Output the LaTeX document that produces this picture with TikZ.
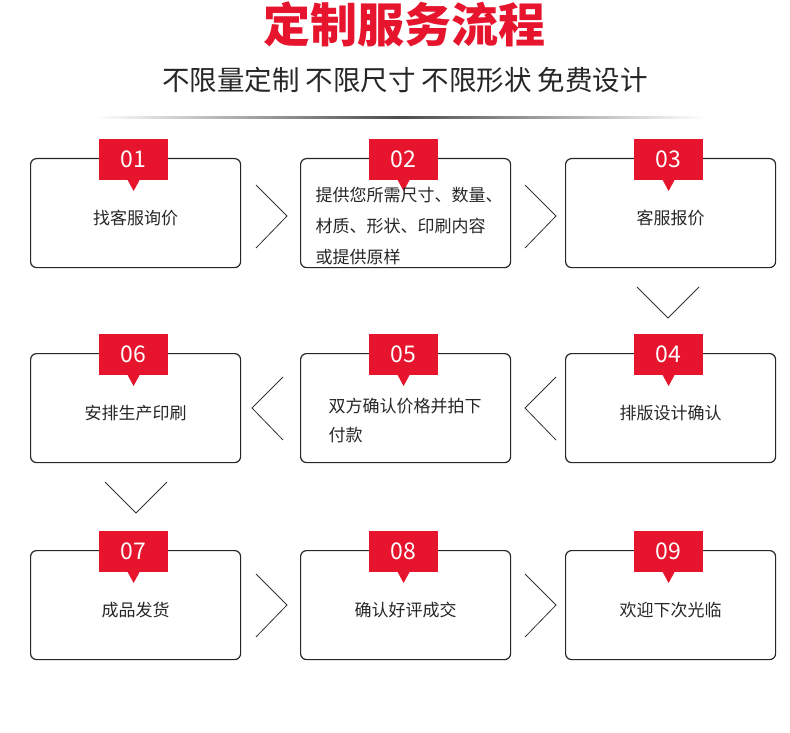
\documentclass[tikz,border=0pt]{standalone}
\usepackage{fontspec}
\setmainfont{Noto Sans CJK SC}
\usetikzlibrary{positioning}
\definecolor{tabred}{RGB}{230,20,45}
\tikzset{
  box/.style={draw=black!85, line width=1.2pt, rounded corners=6pt, minimum width=210pt, minimum height=109pt, inner sep=0pt},
  tab/.style={fill=tabred, minimum width=69pt, minimum height=41pt, text=white, font=\fontsize{23}{23}\selectfont, inner sep=0pt},
  boxtext/.style={font=\fontsize{17}{17}\selectfont, text=black!85},
  chev/.style={draw=black!80, line width=0.8pt},
}
% step box: name, x, y (top), number, text
\newcommand\mystep[5]{
  \node[box, anchor=north west] (#1) at (#2,#3) {};
  \node[tab, anchor=south] (#1tab) at ([xshift=-2pt,yshift=-22pt]#1.north) {#4};
  \fill[tabred] ([xshift=-6pt]#1tab.south) -- ([xshift=6pt]#1tab.south) -- ([yshift=-11pt]#1tab.south) -- cycle;
  \node[boxtext] (#1txt) at ([yshift=-5pt]#1.center) {#5};
}
\begin{document}
\begin{tikzpicture}[x=1pt, y=-1pt]
  \useasboundingbox (0,0) rectangle (790,733);
  % title
  \node[text=tabred, font=\fontsize{47}{47}\bfseries\selectfont] (title) at (404,24) {定制服务流程};
  \node[font=\fontsize{27.5}{27.5}\selectfont, text=black!85] (subtitle) at (405,80) {不限量定制 不限尺寸 不限形状 免费设计};
  \shade[left color=white, right color=white, middle color=black!70] (95,117) rectangle (705,119);

  % row 1
  \mystep{s01}{30}{158}{01}{找客服询价}
  \mystep{s02}{300}{158}{02}{}
  \mystep{s03}{565}{158}{03}{客服报价}
  \node[boxtext, anchor=west, align=left, text width=200pt] (s02txt) at (312,226)
    {提供您所需尺寸、数量、\\[14pt]材质、形状、印刷内容\\[14pt]或提供原样};
  % row 2
  \mystep{s06}{30}{353}{06}{安排生产印刷}
  \mystep{s05}{300}{353}{05}{}
  \mystep{s04}{565}{353}{04}{排版设计确认}
  \node[boxtext, anchor=west, align=left, text width=200pt] (s05txt) at (325,421)
    {双方确认价格并拍下\\[12pt]付款};
  % row 3
  \mystep{s07}{30}{550}{07}{成品发货}
  \mystep{s08}{300}{550}{08}{确认好评成交}
  \mystep{s09}{565}{550}{09}{欢迎下次光临}

  % chevrons
  \draw[chev] (256,185) -- (287,216) -- (256,248);
  \draw[chev] (525,185) -- (556,216) -- (525,248);
  \draw[chev] (637,287) -- (668,318) -- (699,287);
  \draw[chev] (283,377) -- (252,408) -- (283,440);
  \draw[chev] (556,377) -- (525,408) -- (556,440);
  \draw[chev] (105,482) -- (136,513) -- (167,482);
  \draw[chev] (256,574) -- (287,605) -- (256,637);
  \draw[chev] (525,574) -- (556,605) -- (525,637);
\end{tikzpicture}
\end{document}
